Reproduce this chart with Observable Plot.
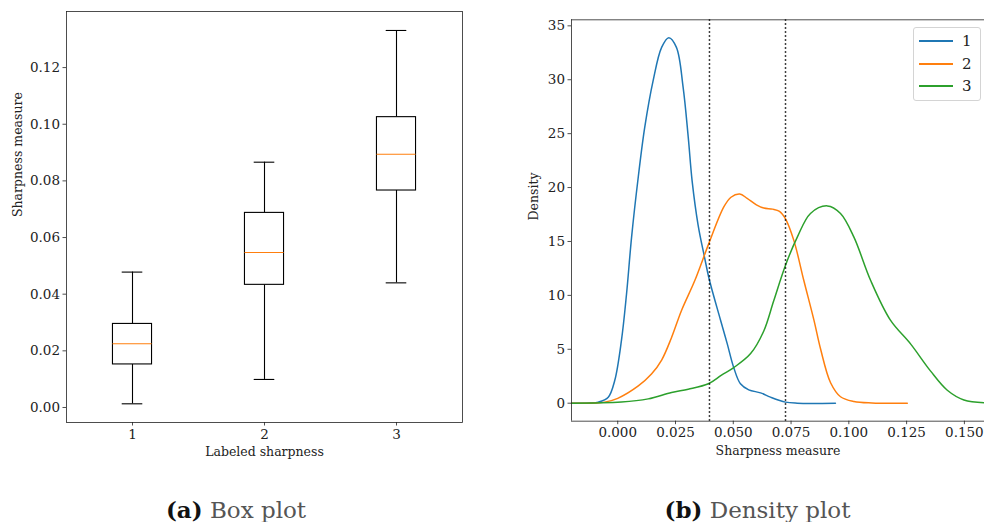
<!DOCTYPE html>
<html>
<head>
<meta charset="utf-8">
<script src="https://cdn.jsdelivr.net/npm/d3@7"></script>
<script src="https://cdn.jsdelivr.net/npm/@observablehq/plot@0.6"></script>
<style>
  html, body { margin: 0; padding: 0; background: #fff; overflow: hidden; }
  #wrap { position: relative; width: 984px; height: 522px; font-family: "DejaVu Serif", serif; }
  #wrap svg { position: absolute; top: 0; overflow: visible; }
  .cap { position: absolute; top: 497.5px; width: 300px; text-align: center; font-family: "DejaVu Serif", serif; font-size: 23px; line-height: 23px; color: #555; white-space: nowrap; }
  .cap b { color: #111; font-weight: 700; }
  #legend { position: absolute; left: 913px; top: 27px; width: 68px; height: 74px; border: 1px solid #d4d4d4; border-radius: 3px; background: rgba(255,255,255,0.85); box-sizing: border-box; }
  .lg-row { position: absolute; left: 0; height: 0; width: 66px; }
  .lg-line { position: absolute; left: 5px; top: -1px; width: 34px; height: 2px; }
  .lg-text { position: absolute; left: 48px; top: -9px; font-size: 15px; line-height: 18px; color: #222; }
</style>
</head>
<body>
<div id="wrap"></div>
<script>
// ---------- Data: box plot (a) ----------
const categories   = [1, 2, 3];
const whiskerLow   = [0.0013, 0.0099, 0.0440];
const quartile1    = [0.0152, 0.0433, 0.0766];
const medians      = [0.0225, 0.0547, 0.0894];
const quartile3    = [0.0295, 0.0687, 0.1025];
const whiskerHigh  = [0.0478, 0.0866, 0.1331];
const boxYTicks    = [0, 0.02, 0.04, 0.06, 0.08, 0.10, 0.12];

// ---------- Data: density plot (b) ----------
const seriesNames  = ["1", "2", "3"];
const seriesColors = ["#1f77b4", "#ff7f0e", "#2ca02c"];
const density1X = [-0.02, -0.012, -0.0084, -0.0041, -0.0013, 0.0016, 0.0038, 0.0060, 0.0089, 0.0117, 0.0153, 0.0190, 0.0221, 0.0254, 0.0283, 0.0305, 0.0322, 0.0348, 0.0375, 0.0397, 0.0445, 0.0474, 0.0502, 0.0531, 0.0567, 0.0618, 0.0661, 0.0726, 0.0777, 0.0942];
const density1Y = [0, 0.01, 0.1, 0.56, 2.1, 5.8, 10.1, 15.4, 21.0, 25.6, 29.9, 33.0, 33.9, 33.0, 29.3, 24.7, 20.6, 16.5, 13.6, 11.4, 7.7, 5.5, 3.3, 1.8, 1.24, 0.96, 0.56, 0.1, 0, 0];
const density2X = [-0.02, -0.010, -0.0056, 0.0, 0.0089, 0.0146, 0.0190, 0.0233, 0.0276, 0.0334, 0.0394, 0.0459, 0.0490, 0.0528, 0.0560, 0.0600, 0.0632, 0.0670, 0.0700, 0.0726, 0.0762, 0.0805, 0.0849, 0.0878, 0.0921, 0.0964, 0.1022, 0.110, 0.1253];
const density2Y = [0, 0.02, 0.1, 0.45, 1.6, 2.7, 4.0, 6.1, 8.6, 11.4, 14.8, 18.2, 19.1, 19.4, 19.0, 18.4, 18.1, 18.0, 17.8, 17.1, 15.1, 11.4, 7.7, 5.0, 1.9, 0.6, 0.16, 0.02, 0];
const density3X = [-0.02, 0.0016, 0.0132, 0.0233, 0.0305, 0.0392, 0.0449, 0.0502, 0.0575, 0.0632, 0.0675, 0.0726, 0.0777, 0.0834, 0.0907, 0.0964, 0.1022, 0.1094, 0.1180, 0.1267, 0.1353, 0.1426, 0.1498, 0.1587];
const density3Y = [0, 0.1, 0.4, 1.0, 1.3, 1.8, 2.6, 3.3, 4.6, 6.7, 9.5, 12.8, 15.4, 17.6, 18.3, 17.6, 15.4, 11.4, 7.7, 5.5, 3.0, 1.2, 0.3, 0.05];
const thresholds = [0.0397, 0.0726];
const densXTicks = [0, 0.025, 0.05, 0.075, 0.1, 0.125, 0.15];
const densYTicks = [0, 5, 10, 15, 20, 25, 30, 35];

// ---------- Build tables ----------
const boxes = categories.map((c, i) => ({
  cat: c, lo: whiskerLow[i], q1: quartile1[i], med: medians[i], q3: quartile3[i], hi: whiskerHigh[i]
}));
const densSeries = [[density1X, density1Y], [density2X, density2Y], [density3X, density3Y]];
const densRows = densSeries.flatMap(([xs, ys], s) => xs.map((x, j) => ({series: seriesNames[s], x, y: ys[j]})));

const INK = "#222";
const boxHalf = 0.148, capHalf = 0.078;
const font = "DejaVu Serif";

// ---------- (a) Box plot ----------
const boxPlot = Plot.plot({
  width: 480, height: 470,
  marginLeft: 66, marginRight: 18, marginTop: 11, marginBottom: 48,
  style: {fontFamily: font, fontSize: "12.5px", color: INK, background: "transparent"},
  x: {type: "linear", domain: [0.5, 3.5]},
  y: {domain: [-0.0053, 0.1398]},
  marks: [
    Plot.axisX({ticks: categories, tickFormat: d => String(d), tickSize: 3.5, tickPadding: 3, label: null, stroke: INK, strokeWidth: 0.8, fontSize: 13.5}),
    Plot.axisY({ticks: boxYTicks, tickFormat: d3.format(".2f"), tickSize: 3.5, tickPadding: 3, label: null, stroke: INK, strokeWidth: 0.8, fontSize: 13.5}),
    Plot.ruleX(boxes, {x: "cat", y1: "lo", y2: "q1", stroke: "black", strokeWidth: 1.1}),
    Plot.ruleX(boxes, {x: "cat", y1: "q3", y2: "hi", stroke: "black", strokeWidth: 1.1}),
    Plot.ruleY(boxes, {y: "lo", x1: d => d.cat - capHalf, x2: d => d.cat + capHalf, stroke: "black", strokeWidth: 1.1}),
    Plot.ruleY(boxes, {y: "hi", x1: d => d.cat - capHalf, x2: d => d.cat + capHalf, stroke: "black", strokeWidth: 1.1}),
    Plot.rect(boxes, {x1: d => d.cat - boxHalf, x2: d => d.cat + boxHalf, y1: "q1", y2: "q3", fill: "white", stroke: "black", strokeWidth: 1.1}),
    Plot.ruleY(boxes, {y: "med", x1: d => d.cat - boxHalf, x2: d => d.cat + boxHalf, stroke: "#ff7f0e", strokeWidth: 1.1}),
    Plot.frame({stroke: INK, strokeWidth: 0.8}),
    Plot.text(["Labeled sharpness"], {frameAnchor: "bottom", dy: 33, fontSize: 12.5, fill: INK}),
    Plot.text(["Sharpness measure"], {frameAnchor: "left", dx: -49, rotate: -90, fontSize: 12.5, fill: INK})
  ]
});
boxPlot.style.left = "0px";

// ---------- (b) Density plot ----------
const xDom = [-0.02, 0.1587], yDom = [-1.67, 35.56];
const densPlot = Plot.plot({
  width: 474, height: 470,
  marginLeft: 61, marginRight: 0, marginTop: 19.3, marginBottom: 49.3,
  style: {fontFamily: font, fontSize: "12.5px", color: INK, background: "transparent"},
  x: {domain: xDom},
  y: {domain: yDom},
  color: {domain: seriesNames, range: seriesColors},
  marks: [
    Plot.axisX({ticks: densXTicks, tickFormat: d3.format(".3f"), tickSize: 3.5, tickPadding: 3, label: null, stroke: INK, strokeWidth: 0.8, fontSize: 13.5}),
    Plot.axisY({ticks: densYTicks, tickFormat: d => String(d), tickSize: 3.5, tickPadding: 3, label: null, stroke: INK, strokeWidth: 0.8, fontSize: 13.5}),
    Plot.line(densRows, {x: "x", y: "y", z: "series", stroke: "series", strokeWidth: 1.5, curve: "catmull-rom"}),
    Plot.ruleX(thresholds, {stroke: "black", strokeWidth: 1.5, strokeDasharray: "1.5,2.5"}),
    Plot.ruleX([xDom[0]], {stroke: INK, strokeWidth: 0.8}),
    Plot.ruleY([yDom[0], yDom[1]], {stroke: INK, strokeWidth: 0.8}),
    Plot.text(["Sharpness measure"], {frameAnchor: "bottom", dy: 33.3, fontSize: 12.5, fill: INK}),
    Plot.text(["Density"], {frameAnchor: "left", dx: -38, rotate: -90, fontSize: 12.5, fill: INK})
  ]
});
densPlot.style.left = "510px";

const wrap = document.getElementById("wrap");
wrap.appendChild(boxPlot);
wrap.appendChild(densPlot);

// Legend (b)
const legend = document.createElement("div");
legend.id = "legend";
seriesNames.forEach((name, i) => {
  const row = document.createElement("div");
  row.className = "lg-row";
  row.style.top = (13 + i * 22.5) + "px";
  const ln = document.createElement("div");
  ln.className = "lg-line";
  ln.style.background = seriesColors[i];
  const tx = document.createElement("div");
  tx.className = "lg-text";
  tx.textContent = name;
  row.appendChild(ln); row.appendChild(tx);
  legend.appendChild(row);
});
wrap.appendChild(legend);

// Captions
const captions = [["(a)", "Box plot", 236], ["(b)", "Density plot", 757.5]];
captions.forEach(([tag, text, cx]) => {
  const c = document.createElement("div");
  c.className = "cap";
  c.style.left = (cx - 150) + "px";
  c.innerHTML = "<b>" + tag + "</b> " + text;
  wrap.appendChild(c);
});
</script>
</body>
</html>
